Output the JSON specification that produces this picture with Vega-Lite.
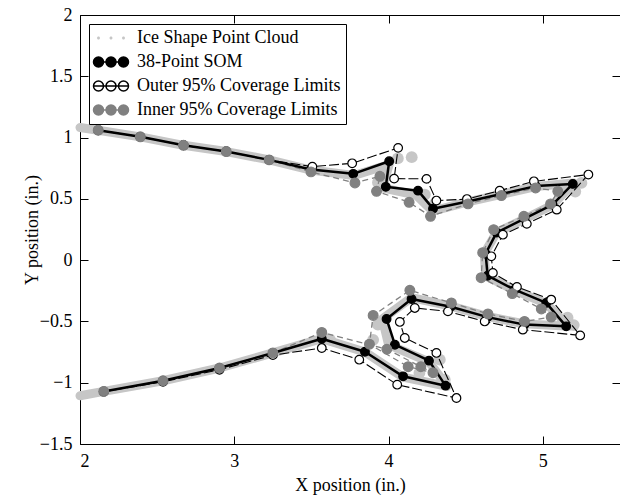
{
  "$schema": "https://vega.github.io/schema/vega-lite/v6.json",
  "autosize": "none",
  "width": 540,
  "height": 429,
  "padding": {"left": 80, "top": 15, "right": 0, "bottom": 52},
  "background": "white",
  "config": {
    "view": {"stroke": null},
    "font": "Liberation Serif",
    "axis": {
      "grid": false,
      "domainColor": "black",
      "domainWidth": 1,
      "tickColor": "black",
      "tickWidth": 1,
      "tickSize": -8,
      "labelFont": "Liberation Serif",
      "labelFontSize": 18,
      "labelColor": "black",
      "titleFont": "Liberation Serif",
      "titleFontSize": 18,
      "titleFontWeight": "normal",
      "titleColor": "black"
    }
  },
  "data": {
    "values": [
      {"series": "Ice Shape Point Cloud", "part": "band", "i": 0, "x": 2.0, "y": 1.082},
      {"series": "Ice Shape Point Cloud", "part": "band", "i": 1, "x": 2.118, "y": 1.06},
      {"series": "Ice Shape Point Cloud", "part": "band", "i": 2, "x": 2.391, "y": 1.006},
      {"series": "Ice Shape Point Cloud", "part": "band", "i": 3, "x": 2.671, "y": 0.937},
      {"series": "Ice Shape Point Cloud", "part": "band", "i": 4, "x": 2.948, "y": 0.886},
      {"series": "Ice Shape Point Cloud", "part": "band", "i": 5, "x": 3.226, "y": 0.818},
      {"series": "Ice Shape Point Cloud", "part": "band", "i": 6, "x": 3.497, "y": 0.735},
      {"series": "Ice Shape Point Cloud", "part": "band", "i": 7, "x": 3.775, "y": 0.69},
      {"series": "Ice Shape Point Cloud", "part": "band", "i": 8, "x": 4.004, "y": 0.78},
      {"series": "Ice Shape Point Cloud", "part": "band", "i": 9, "x": 3.96, "y": 0.59},
      {"series": "Ice Shape Point Cloud", "part": "band", "i": 10, "x": 4.18, "y": 0.53},
      {"series": "Ice Shape Point Cloud", "part": "band", "i": 11, "x": 4.285, "y": 0.4},
      {"series": "Ice Shape Point Cloud", "part": "band", "i": 12, "x": 4.513, "y": 0.475},
      {"series": "Ice Shape Point Cloud", "part": "band", "i": 13, "x": 4.731, "y": 0.537},
      {"series": "Ice Shape Point Cloud", "part": "band", "i": 14, "x": 4.953, "y": 0.6},
      {"series": "Ice Shape Point Cloud", "part": "band", "i": 15, "x": 5.2, "y": 0.63},
      {"series": "Ice Shape Point Cloud", "part": "band", "i": 16, "x": 5.063, "y": 0.45},
      {"series": "Ice Shape Point Cloud", "part": "band", "i": 17, "x": 4.881, "y": 0.336},
      {"series": "Ice Shape Point Cloud", "part": "band", "i": 18, "x": 4.7, "y": 0.225},
      {"series": "Ice Shape Point Cloud", "part": "band", "i": 19, "x": 4.62, "y": 0.053},
      {"series": "Ice Shape Point Cloud", "part": "band", "i": 20, "x": 4.63, "y": -0.13},
      {"series": "Ice Shape Point Cloud", "part": "band", "i": 21, "x": 4.817, "y": -0.245},
      {"series": "Ice Shape Point Cloud", "part": "band", "i": 22, "x": 5.022, "y": -0.355},
      {"series": "Ice Shape Point Cloud", "part": "band", "i": 23, "x": 5.17, "y": -0.54},
      {"series": "Ice Shape Point Cloud", "part": "band", "i": 24, "x": 4.881, "y": -0.52},
      {"series": "Ice Shape Point Cloud", "part": "band", "i": 25, "x": 4.642, "y": -0.46},
      {"series": "Ice Shape Point Cloud", "part": "band", "i": 26, "x": 4.403, "y": -0.375},
      {"series": "Ice Shape Point Cloud", "part": "band", "i": 27, "x": 4.149, "y": -0.305},
      {"series": "Ice Shape Point Cloud", "part": "band", "i": 28, "x": 3.96, "y": -0.48},
      {"series": "Ice Shape Point Cloud", "part": "band", "i": 29, "x": 4.0, "y": -0.69},
      {"series": "Ice Shape Point Cloud", "part": "band", "i": 30, "x": 4.262, "y": -0.83},
      {"series": "Ice Shape Point Cloud", "part": "band", "i": 31, "x": 4.38, "y": -1.03},
      {"series": "Ice Shape Point Cloud", "part": "band", "i": 32, "x": 4.094, "y": -0.955},
      {"series": "Ice Shape Point Cloud", "part": "band", "i": 33, "x": 3.847, "y": -0.75},
      {"series": "Ice Shape Point Cloud", "part": "band", "i": 34, "x": 3.567, "y": -0.64},
      {"series": "Ice Shape Point Cloud", "part": "band", "i": 35, "x": 3.25, "y": -0.757},
      {"series": "Ice Shape Point Cloud", "part": "band", "i": 36, "x": 2.904, "y": -0.88},
      {"series": "Ice Shape Point Cloud", "part": "band", "i": 37, "x": 2.538, "y": -0.984},
      {"series": "Ice Shape Point Cloud", "part": "band", "i": 38, "x": 2.154, "y": -1.071},
      {"series": "Ice Shape Point Cloud", "part": "band", "i": 39, "x": 2.0, "y": -1.106},
      {"series": "Ice Shape Point Cloud", "part": "patch", "i": 1, "x": 4.06, "y": 0.83},
      {"series": "Ice Shape Point Cloud", "part": "patch", "i": 2, "x": 4.15, "y": 0.84},
      {"series": "Ice Shape Point Cloud", "part": "patch", "i": 3, "x": 3.931, "y": 0.633},
      {"series": "Ice Shape Point Cloud", "part": "patch", "i": 4, "x": 4.235, "y": 0.535},
      {"series": "Ice Shape Point Cloud", "part": "patch", "i": 5, "x": 4.3, "y": 0.46},
      {"series": "Ice Shape Point Cloud", "part": "patch", "i": 6, "x": 5.25, "y": 0.63},
      {"series": "Ice Shape Point Cloud", "part": "patch", "i": 7, "x": 5.21, "y": 0.56},
      {"series": "Ice Shape Point Cloud", "part": "patch", "i": 8, "x": 5.2, "y": -0.53},
      {"series": "Ice Shape Point Cloud", "part": "patch", "i": 9, "x": 5.16, "y": -0.47},
      {"series": "Ice Shape Point Cloud", "part": "patch", "i": 10, "x": 3.931, "y": -0.526},
      {"series": "Ice Shape Point Cloud", "part": "patch", "i": 11, "x": 3.9, "y": -0.65},
      {"series": "Ice Shape Point Cloud", "part": "patch", "i": 12, "x": 4.332, "y": -0.812},
      {"series": "Ice Shape Point Cloud", "part": "patch", "i": 13, "x": 4.364, "y": -0.975},
      {"series": "Ice Shape Point Cloud", "part": "patch", "i": 14, "x": 4.2, "y": -0.92},
      {"series": "Ice Shape Point Cloud", "part": "patch", "i": 15, "x": 3.62, "y": -0.649},

      {"series": "38-Point SOM", "i": 1, "x": 2.118, "y": 1.06},
      {"series": "38-Point SOM", "i": 2, "x": 2.391, "y": 1.006},
      {"series": "38-Point SOM", "i": 3, "x": 2.671, "y": 0.937},
      {"series": "38-Point SOM", "i": 4, "x": 2.948, "y": 0.886},
      {"series": "38-Point SOM", "i": 5, "x": 3.226, "y": 0.818},
      {"series": "38-Point SOM", "i": 6, "x": 3.497, "y": 0.739},
      {"series": "38-Point SOM", "i": 7, "x": 3.771, "y": 0.704},
      {"series": "38-Point SOM", "i": 8, "x": 4.004, "y": 0.807},
      {"series": "38-Point SOM", "i": 9, "x": 3.982, "y": 0.598},
      {"series": "38-Point SOM", "i": 10, "x": 4.191, "y": 0.567},
      {"series": "38-Point SOM", "i": 11, "x": 4.288, "y": 0.42},
      {"series": "38-Point SOM", "i": 12, "x": 4.513, "y": 0.478},
      {"series": "38-Point SOM", "i": 13, "x": 4.731, "y": 0.539},
      {"series": "38-Point SOM", "i": 14, "x": 4.953, "y": 0.604},
      {"series": "38-Point SOM", "i": 15, "x": 5.194, "y": 0.622},
      {"series": "38-Point SOM", "i": 16, "x": 5.063, "y": 0.453},
      {"series": "38-Point SOM", "i": 17, "x": 4.881, "y": 0.339},
      {"series": "38-Point SOM", "i": 18, "x": 4.7, "y": 0.225},
      {"series": "38-Point SOM", "i": 19, "x": 4.629, "y": 0.053},
      {"series": "38-Point SOM", "i": 20, "x": 4.642, "y": -0.127},
      {"series": "38-Point SOM", "i": 21, "x": 4.817, "y": -0.241},
      {"series": "38-Point SOM", "i": 22, "x": 5.022, "y": -0.349},
      {"series": "38-Point SOM", "i": 23, "x": 5.151, "y": -0.54},
      {"series": "38-Point SOM", "i": 24, "x": 4.881, "y": -0.526},
      {"series": "38-Point SOM", "i": 25, "x": 4.642, "y": -0.465},
      {"series": "38-Point SOM", "i": 26, "x": 4.403, "y": -0.38},
      {"series": "38-Point SOM", "i": 27, "x": 4.149, "y": -0.317},
      {"series": "38-Point SOM", "i": 28, "x": 3.987, "y": -0.48},
      {"series": "38-Point SOM", "i": 29, "x": 4.041, "y": -0.69},
      {"series": "38-Point SOM", "i": 30, "x": 4.262, "y": -0.82},
      {"series": "38-Point SOM", "i": 31, "x": 4.369, "y": -1.024},
      {"series": "38-Point SOM", "i": 32, "x": 4.094, "y": -0.948},
      {"series": "38-Point SOM", "i": 33, "x": 3.847, "y": -0.747},
      {"series": "38-Point SOM", "i": 34, "x": 3.567, "y": -0.641},
      {"series": "38-Point SOM", "i": 35, "x": 3.25, "y": -0.757},
      {"series": "38-Point SOM", "i": 36, "x": 2.904, "y": -0.88},
      {"series": "38-Point SOM", "i": 37, "x": 2.538, "y": -0.984},
      {"series": "38-Point SOM", "i": 38, "x": 2.154, "y": -1.071},

      {"series": "Outer 95% Coverage Limits", "i": 1, "x": 2.118, "y": 1.06},
      {"series": "Outer 95% Coverage Limits", "i": 2, "x": 2.391, "y": 1.006},
      {"series": "Outer 95% Coverage Limits", "i": 3, "x": 2.671, "y": 0.937},
      {"series": "Outer 95% Coverage Limits", "i": 4, "x": 2.948, "y": 0.886},
      {"series": "Outer 95% Coverage Limits", "i": 5, "x": 3.226, "y": 0.818},
      {"series": "Outer 95% Coverage Limits", "i": 6, "x": 3.506, "y": 0.763},
      {"series": "Outer 95% Coverage Limits", "i": 7, "x": 3.764, "y": 0.79},
      {"series": "Outer 95% Coverage Limits", "i": 8, "x": 4.062, "y": 0.916},
      {"series": "Outer 95% Coverage Limits", "i": 9, "x": 4.036, "y": 0.665},
      {"series": "Outer 95% Coverage Limits", "i": 10, "x": 4.246, "y": 0.663},
      {"series": "Outer 95% Coverage Limits", "i": 11, "x": 4.31, "y": 0.486},
      {"series": "Outer 95% Coverage Limits", "i": 12, "x": 4.508, "y": 0.498},
      {"series": "Outer 95% Coverage Limits", "i": 13, "x": 4.72, "y": 0.567},
      {"series": "Outer 95% Coverage Limits", "i": 14, "x": 4.942, "y": 0.643},
      {"series": "Outer 95% Coverage Limits", "i": 15, "x": 5.295, "y": 0.698},
      {"series": "Outer 95% Coverage Limits", "i": 16, "x": 5.09, "y": 0.412},
      {"series": "Outer 95% Coverage Limits", "i": 17, "x": 4.896, "y": 0.296},
      {"series": "Outer 95% Coverage Limits", "i": 18, "x": 4.741, "y": 0.208},
      {"series": "Outer 95% Coverage Limits", "i": 19, "x": 4.666, "y": 0.031},
      {"series": "Outer 95% Coverage Limits", "i": 20, "x": 4.676, "y": -0.104},
      {"series": "Outer 95% Coverage Limits", "i": 21, "x": 4.832, "y": -0.219},
      {"series": "Outer 95% Coverage Limits", "i": 22, "x": 5.054, "y": -0.322},
      {"series": "Outer 95% Coverage Limits", "i": 23, "x": 5.242, "y": -0.614},
      {"series": "Outer 95% Coverage Limits", "i": 24, "x": 4.87, "y": -0.567},
      {"series": "Outer 95% Coverage Limits", "i": 25, "x": 4.623, "y": -0.5},
      {"series": "Outer 95% Coverage Limits", "i": 26, "x": 4.385, "y": -0.418},
      {"series": "Outer 95% Coverage Limits", "i": 27, "x": 4.17, "y": -0.39},
      {"series": "Outer 95% Coverage Limits", "i": 28, "x": 4.073, "y": -0.504},
      {"series": "Outer 95% Coverage Limits", "i": 29, "x": 4.105, "y": -0.635},
      {"series": "Outer 95% Coverage Limits", "i": 30, "x": 4.31, "y": -0.757},
      {"series": "Outer 95% Coverage Limits", "i": 31, "x": 4.44, "y": -1.125},
      {"series": "Outer 95% Coverage Limits", "i": 32, "x": 4.056, "y": -1.016},
      {"series": "Outer 95% Coverage Limits", "i": 33, "x": 3.81, "y": -0.812},
      {"series": "Outer 95% Coverage Limits", "i": 34, "x": 3.567, "y": -0.717},
      {"series": "Outer 95% Coverage Limits", "i": 35, "x": 3.25, "y": -0.775},
      {"series": "Outer 95% Coverage Limits", "i": 36, "x": 2.904, "y": -0.894},
      {"series": "Outer 95% Coverage Limits", "i": 37, "x": 2.538, "y": -0.992},
      {"series": "Outer 95% Coverage Limits", "i": 38, "x": 2.154, "y": -1.073},

      {"series": "Inner 95% Coverage Limits", "i": 1, "x": 2.118, "y": 1.06},
      {"series": "Inner 95% Coverage Limits", "i": 2, "x": 2.391, "y": 1.006},
      {"series": "Inner 95% Coverage Limits", "i": 3, "x": 2.671, "y": 0.937},
      {"series": "Inner 95% Coverage Limits", "i": 4, "x": 2.948, "y": 0.886},
      {"series": "Inner 95% Coverage Limits", "i": 5, "x": 3.226, "y": 0.818},
      {"series": "Inner 95% Coverage Limits", "i": 6, "x": 3.497, "y": 0.72},
      {"series": "Inner 95% Coverage Limits", "i": 7, "x": 3.782, "y": 0.63},
      {"series": "Inner 95% Coverage Limits", "i": 8, "x": 3.944, "y": 0.684},
      {"series": "Inner 95% Coverage Limits", "i": 9, "x": 3.922, "y": 0.562},
      {"series": "Inner 95% Coverage Limits", "i": 10, "x": 4.133, "y": 0.472},
      {"series": "Inner 95% Coverage Limits", "i": 11, "x": 4.272, "y": 0.358},
      {"series": "Inner 95% Coverage Limits", "i": 12, "x": 4.515, "y": 0.459},
      {"series": "Inner 95% Coverage Limits", "i": 13, "x": 4.731, "y": 0.527},
      {"series": "Inner 95% Coverage Limits", "i": 14, "x": 4.953, "y": 0.589},
      {"series": "Inner 95% Coverage Limits", "i": 15, "x": 5.097, "y": 0.562},
      {"series": "Inner 95% Coverage Limits", "i": 16, "x": 5.05, "y": 0.459},
      {"series": "Inner 95% Coverage Limits", "i": 17, "x": 4.877, "y": 0.358},
      {"series": "Inner 95% Coverage Limits", "i": 18, "x": 4.681, "y": 0.249},
      {"series": "Inner 95% Coverage Limits", "i": 19, "x": 4.61, "y": 0.061},
      {"series": "Inner 95% Coverage Limits", "i": 20, "x": 4.6, "y": -0.143},
      {"series": "Inner 95% Coverage Limits", "i": 21, "x": 4.802, "y": -0.273},
      {"series": "Inner 95% Coverage Limits", "i": 22, "x": 4.99, "y": -0.398},
      {"series": "Inner 95% Coverage Limits", "i": 23, "x": 5.054, "y": -0.464},
      {"series": "Inner 95% Coverage Limits", "i": 24, "x": 4.881, "y": -0.5},
      {"series": "Inner 95% Coverage Limits", "i": 25, "x": 4.644, "y": -0.439},
      {"series": "Inner 95% Coverage Limits", "i": 26, "x": 4.407, "y": -0.349},
      {"series": "Inner 95% Coverage Limits", "i": 27, "x": 4.138, "y": -0.246},
      {"series": "Inner 95% Coverage Limits", "i": 28, "x": 3.9, "y": -0.451},
      {"series": "Inner 95% Coverage Limits", "i": 29, "x": 3.876, "y": -0.686},
      {"series": "Inner 95% Coverage Limits", "i": 30, "x": 4.127, "y": -0.869},
      {"series": "Inner 95% Coverage Limits", "i": 31, "x": 4.288, "y": -0.918},
      {"series": "Inner 95% Coverage Limits", "i": 32, "x": 4.209, "y": -0.869},
      {"series": "Inner 95% Coverage Limits", "i": 33, "x": 3.989, "y": -0.727},
      {"series": "Inner 95% Coverage Limits", "i": 34, "x": 3.567, "y": -0.59},
      {"series": "Inner 95% Coverage Limits", "i": 35, "x": 3.25, "y": -0.757},
      {"series": "Inner 95% Coverage Limits", "i": 36, "x": 2.904, "y": -0.88},
      {"series": "Inner 95% Coverage Limits", "i": 37, "x": 2.538, "y": -0.984},
      {"series": "Inner 95% Coverage Limits", "i": 38, "x": 2.154, "y": -1.071}
    ]
  },
  "resolve": {"axis": {"x": "independent", "y": "independent"}},
  "layer": [
    {
      "transform": [{"filter": "datum.series === 'Ice Shape Point Cloud' && datum.part === 'band'"}],
      "mark": {"type": "line", "color": "#c6c6c6", "strokeWidth": 9, "strokeCap": "round", "strokeJoin": "round"},
      "encoding": {
        "x": {
          "field": "x", "type": "quantitative",
          "scale": {"domain": [2, 5.5], "nice": false, "zero": false},
          "axis": {"orient": "bottom", "values": [2, 3, 4, 5], "format": "~g", "labelPadding": 16, "title": "X position (in.)", "titlePadding": 6}
        },
        "y": {
          "field": "y", "type": "quantitative",
          "scale": {"domain": [-1.5, 2], "nice": false, "zero": false},
          "axis": {"orient": "left", "values": [-1.5, -1, -0.5, 0, 0.5, 1, 1.5, 2], "format": "~g", "labelPadding": 16, "title": "Y position (in.)", "titlePadding": -2}
        },
        "order": {"field": "i", "type": "quantitative"}
      }
    },
    {
      "transform": [{"filter": "datum.series === 'Ice Shape Point Cloud' && datum.part === 'patch'"}],
      "mark": {"type": "point", "shape": "circle", "filled": true, "color": "#c6c6c6", "opacity": 1, "size": 140},
      "encoding": {
        "x": {"field": "x", "type": "quantitative", "axis": null},
        "y": {"field": "y", "type": "quantitative", "axis": null}
      }
    },
    {
      "transform": [{"filter": "datum.series === 'Inner 95% Coverage Limits'"}],
      "mark": {"type": "line", "color": "#808080", "strokeWidth": 1.3, "strokeDash": [6, 4]},
      "encoding": {
        "x": {"field": "x", "type": "quantitative", "axis": null},
        "y": {"field": "y", "type": "quantitative", "axis": null},
        "order": {"field": "i", "type": "quantitative"}
      }
    },
    {
      "transform": [{"filter": "datum.series === 'Outer 95% Coverage Limits'"}],
      "mark": {"type": "line", "color": "black", "strokeWidth": 1.1, "strokeDash": [10, 3]},
      "encoding": {
        "x": {"field": "x", "type": "quantitative", "axis": null},
        "y": {"field": "y", "type": "quantitative", "axis": null},
        "order": {"field": "i", "type": "quantitative"}
      }
    },
    {
      "transform": [{"filter": "datum.series === '38-Point SOM'"}],
      "mark": {"type": "line", "color": "black", "strokeWidth": 2.5, "strokeJoin": "round"},
      "encoding": {
        "x": {
          "field": "x", "type": "quantitative",
          "axis": {"orient": "top", "values": [2, 3, 4, 5], "labels": false, "title": null}
        },
        "y": {
          "field": "y", "type": "quantitative",
          "axis": {"orient": "right", "values": [-1.5, -1, -0.5, 0, 0.5, 1, 1.5, 2], "labels": false, "title": null, "domain": false}
        },
        "order": {"field": "i", "type": "quantitative"}
      }
    },
    {
      "transform": [{"filter": "datum.series !== 'Ice Shape Point Cloud'"}],
      "mark": {"type": "point", "shape": "circle", "filled": true, "opacity": 1, "strokeWidth": 1.2},
      "encoding": {
        "x": {"field": "x", "type": "quantitative", "axis": null},
        "y": {"field": "y", "type": "quantitative", "axis": null},
        "size": {"condition": {"test": "datum.series === 'Inner 95% Coverage Limits'", "value": 95}, "value": 75},
        "stroke": {"condition": {"test": "datum.series === 'Inner 95% Coverage Limits'", "value": "#808080"}, "value": "black"},
        "fill": {
          "condition": [
            {"test": "datum.series === '38-Point SOM'", "value": "black"},
            {"test": "datum.series === 'Outer 95% Coverage Limits'", "value": "white"}
          ],
          "value": "#808080"
        }
      }
    },
    {
      "transform": [{"filter": "datum.i === 1 && datum.part !== 'patch'"}],
      "mark": {"type": "point", "opacity": 0, "strokeWidth": 1.3},
      "encoding": {
        "x": {"field": "x", "type": "quantitative", "axis": null},
        "y": {"field": "y", "type": "quantitative", "axis": null},
        "shape": {
          "field": "series", "type": "nominal",
          "scale": {
            "domain": ["Ice Shape Point Cloud", "38-Point SOM", "Outer 95% Coverage Limits", "Inner 95% Coverage Limits"],
            "range": [
              "M-2.8,0C-2.8,0.17 -2.67,0.3 -2.5,0.3C-2.33,0.3 -2.2,0.17 -2.2,0C-2.2,-0.17 -2.33,-0.3 -2.5,-0.3C-2.67,-0.3 -2.8,-0.17 -2.8,0Z M-0.3,0C-0.3,0.17 -0.17,0.3 0,0.3C0.17,0.3 0.3,0.17 0.3,0C0.3,-0.17 0.17,-0.3 0,-0.3C-0.17,-0.3 -0.3,-0.17 -0.3,0Z M2.2,0C2.2,0.17 2.33,0.3 2.5,0.3C2.67,0.3 2.8,0.17 2.8,0C2.8,-0.17 2.67,-0.3 2.5,-0.3C2.33,-0.3 2.2,-0.17 2.2,0Z",
              "M-3.5,0L3.5,0 M-1.5,0C-1.5,0.552 -1.948,1 -2.5,1C-3.052,1 -3.5,0.552 -3.5,0C-3.5,-0.552 -3.052,-1 -2.5,-1C-1.948,-1 -1.5,-0.552 -1.5,0Z M1,0C1,0.552 0.552,1 0,1C-0.552,1 -1,0.552 -1,0C-1,-0.552 -0.552,-1 0,-1C0.552,-1 1,-0.552 1,0Z M3.5,0C3.5,0.552 3.052,1 2.5,1C1.948,1 1.5,0.552 1.5,0C1.5,-0.552 1.948,-1 2.5,-1C3.052,-1 3.5,-0.552 3.5,0Z",
              "M-3.5,0L3.5,0 M-1.5,0C-1.5,0.552 -1.948,1 -2.5,1C-3.052,1 -3.5,0.552 -3.5,0C-3.5,-0.552 -3.052,-1 -2.5,-1C-1.948,-1 -1.5,-0.552 -1.5,0Z M1,0C1,0.552 0.552,1 0,1C-0.552,1 -1,0.552 -1,0C-1,-0.552 -0.552,-1 0,-1C0.552,-1 1,-0.552 1,0Z M3.5,0C3.5,0.552 3.052,1 2.5,1C1.948,1 1.5,0.552 1.5,0C1.5,-0.552 1.948,-1 2.5,-1C3.052,-1 3.5,-0.552 3.5,0Z",
              "M-3.5,0L3.5,0 M-1.5,0C-1.5,0.552 -1.948,1 -2.5,1C-3.052,1 -3.5,0.552 -3.5,0C-3.5,-0.552 -3.052,-1 -2.5,-1C-1.948,-1 -1.5,-0.552 -1.5,0Z M1,0C1,0.552 0.552,1 0,1C-0.552,1 -1,0.552 -1,0C-1,-0.552 -0.552,-1 0,-1C0.552,-1 1,-0.552 1,0Z M3.5,0C3.5,0.552 3.052,1 2.5,1C1.948,1 1.5,0.552 1.5,0C1.5,-0.552 1.948,-1 2.5,-1C3.052,-1 3.5,-0.552 3.5,0Z"
            ]
          },
          "legend": {
            "title": null,
            "orient": "top-left",
            "offset": 9,
            "padding": 5,
            "rowPadding": 6,
            "strokeColor": "black",
            "fillColor": "white",
            "symbolSize": 100,
            "symbolOpacity": 1,
            "symbolOffset": 8,
            "labelOffset": 17,
            "labelFont": "Liberation Serif",
            "labelFontSize": 18,
            "labelColor": "black",
            "labelLimit": 400
          }
        },
        "fill": {
          "field": "series", "type": "nominal",
          "scale": {
            "domain": ["Ice Shape Point Cloud", "38-Point SOM", "Outer 95% Coverage Limits", "Inner 95% Coverage Limits"],
            "range": ["#c6c6c6", "black", "white", "#808080"]
          },
          "legend": {
            "title": null,
            "orient": "top-left",
            "offset": 9,
            "padding": 5,
            "rowPadding": 6,
            "strokeColor": "black",
            "fillColor": "white",
            "symbolSize": 100,
            "symbolOpacity": 1,
            "symbolOffset": 8,
            "labelOffset": 17,
            "labelFont": "Liberation Serif",
            "labelFontSize": 18,
            "labelColor": "black",
            "labelLimit": 400
          }
        },
        "stroke": {
          "field": "series", "type": "nominal",
          "scale": {
            "domain": ["Ice Shape Point Cloud", "38-Point SOM", "Outer 95% Coverage Limits", "Inner 95% Coverage Limits"],
            "range": ["transparent", "black", "black", "#808080"]
          },
          "legend": {
            "title": null,
            "orient": "top-left",
            "offset": 9,
            "padding": 5,
            "rowPadding": 6,
            "strokeColor": "black",
            "fillColor": "white",
            "symbolSize": 100,
            "symbolOpacity": 1,
            "symbolOffset": 8,
            "labelOffset": 17,
            "labelFont": "Liberation Serif",
            "labelFontSize": 18,
            "labelColor": "black",
            "labelLimit": 400
          }
        }
      }
    }
  ]
}
